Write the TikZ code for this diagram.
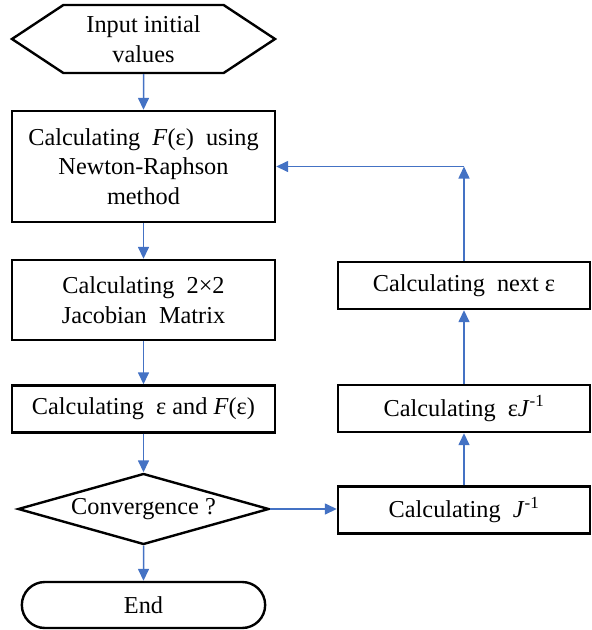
\documentclass[tikz,border=0pt]{standalone}
\usepackage{fontspec}
\setmainfont{Liberation Serif}
\usepackage{tikz}
\usetikzlibrary{arrows.meta,positioning,shapes.geometric,shapes.misc,shapes.symbols}
\definecolor{flowBlue}{HTML}{4472C4}
\tikzset{
  proc/.style={rectangle, draw=black, line width=2.4pt, fill=white, align=center, minimum width=263pt, font=\fontsize{24.3}{29.5}\selectfont},
  rproc/.style={rectangle, draw=black, line width=2.4pt, fill=white, align=center, minimum width=252pt, minimum height=47pt, font=\fontsize{24.3}{29.5}\selectfont},
  inout/.style={signal, signal to=west and east, signal pointer angle=67, draw=black, line width=2.4pt, align=center, minimum width=263pt, minimum height=68pt, inner sep=0pt, font=\fontsize{24.3}{29.5}\selectfont},
  decision/.style={diamond, aspect=3.5, draw=black, line width=2.4pt, align=center, minimum width=251pt, minimum height=71pt, inner sep=0pt, font=\fontsize{24.3}{29.5}\selectfont},
  term/.style={rounded rectangle, draw=black, line width=2.4pt, align=center, minimum width=250pt, minimum height=46pt, font=\fontsize{24.3}{29.5}\selectfont},
  arrow/.style={-{Triangle[length=12pt,width=11pt]}, line width=1.5pt, draw=flowBlue, fill=flowBlue}
}
\begin{document}
\begin{tikzpicture}[x=1pt,y=-1pt]
\useasboundingbox (0,0) rectangle (592,630);
% left column
\node[inout] (input) at (143.5,39) {Input initial\\values};
\node[proc, minimum height=111pt] (newton) at (143.5,166.5) {Calculating\ \ \textit{F}(ε)\ \ using\\Newton-Raphson\\method};
\node[proc, minimum height=80pt] (jacobian) at (143.5,300) {Calculating\ \ 2×2\\Jacobian\ \ Matrix};
\node[proc, minimum height=47pt] (epsF) at (143.5,409) {Calculating\ \ ε and \textit{F}(ε)};
\node[decision] (conv) at (143.5,509) {Convergence ?};
\node[term] (finish) at (143.5,605) {End};
% right column
\node[rproc] (jinv) at (464,510) {Calculating\ \ \textit{J}\textsuperscript{-1}};
\node[rproc] (epsJ) at (464,408.5) {Calculating\ \ ε\textit{J}\textsuperscript{-1}};
\node[rproc] (nexteps) at (464,285.5) {Calculating\ \ next ε};
\coordinate (corner) at (nexteps.north |- newton.east);
% connectors
\draw[arrow] (input) -- (newton);
\draw[arrow] (newton) -- (jacobian);
\draw[arrow] (jacobian) -- (epsF);
\draw[arrow] (epsF) -- (conv);
\draw[arrow] (conv) -- (finish);
\draw[arrow] (conv.east) -- (conv.east -| jinv.west);
\draw[arrow] (jinv) -- (epsJ);
\draw[arrow] (epsJ) -- (nexteps);
\draw[arrow] (nexteps) -- (corner);
\draw[arrow] (corner) -- (newton.east);
\end{tikzpicture}
\end{document}
